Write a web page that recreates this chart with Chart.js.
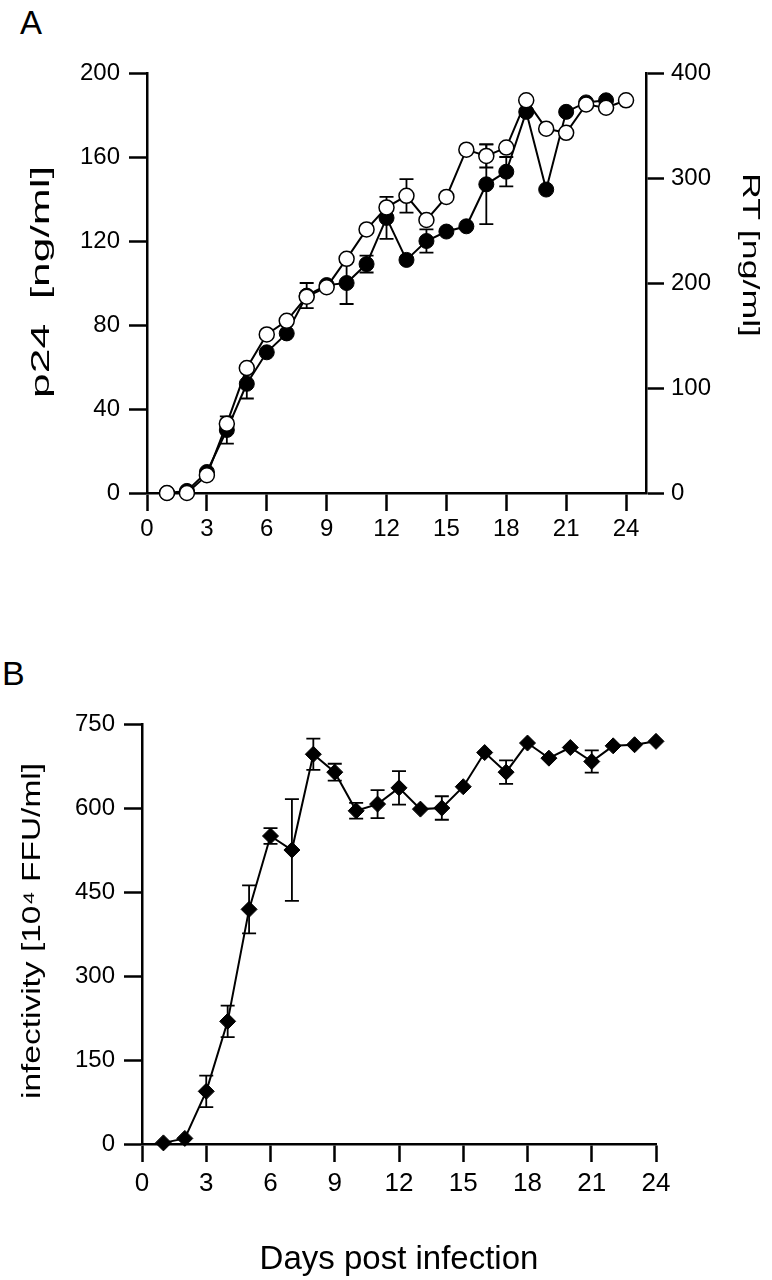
<!DOCTYPE html>
<html>
<head>
<meta charset="utf-8">
<script src="https://cdn.jsdelivr.net/npm/chart.js@4"></script>
<style>
  body { margin: 0; background: #fff; width: 772px; height: 1280px; position: relative; overflow: hidden; }
  .panel { position: absolute; font-family: 'Liberation Sans', Arial, sans-serif; color: #000; line-height: 1; }
  canvas { position: absolute; left: 0; }
</style>
</head>
<body>
<div class="panel" style="left:20px; top:6px; font-size:33px;">A</div>
<div class="panel" style="left:2px; top:656px; font-size:34px;">B</div>
<canvas id="chartA" width="772" height="560" style="top:0px"></canvas>
<canvas id="chartB" width="772" height="680" style="top:600px"></canvas>
<script>
// Panel A: p24 (filled) and RT (open)
const daysA = [1, 2, 3, 4, 5, 6, 7, 8, 9, 10, 11, 12, 13, 14, 15, 16, 17, 18, 19, 20, 21, 22, 23, 24];
const p24 = [0, 1, 10, 30, 52, 67, 76, 94, 99, 100, 109, 131, 111, 120, 124.5, 127, 147, 153, 181.5, 144.5, 181.5, 186, 187];
const p24Err = [0, 0, 0, 6.5, 7, 0, 0, 6, 0, 10, 4, 10, 0, 5.5, 0, 0, 19, 7, 0, 0, 0, 0, 0];
const rt = [0, 0, 17, 66, 119, 151, 164, 187, 196, 223, 251, 272, 283, 260, 282, 327, 321, 329, 374, 347, 343, 370, 367, 374];
const rtErr = [0, 0, 0, 0, 0, 0, 0, 0, 0, 0, 0, 0, 16, 0, 0, 0, 11, 0, 0, 0, 0, 0, 0, 0];
const p24Ticks = [0, 40, 80, 120, 160, 200];
const rtTicks = [0, 100, 200, 300, 400];

// Panel B: infectivity
const daysB = [1, 2, 3, 4, 5, 6, 7, 8, 9, 10, 11, 12, 13, 14, 15, 16, 17, 18, 19, 20, 21, 22, 23, 24];
const infectivity = [2, 10, 94, 219, 419, 550, 525, 696, 664, 595, 607, 636, 598, 600, 638, 699, 664, 716, 689, 708, 683, 711, 713, 719];
const infErr = [0, 0, 28, 28, 43, 14, 91, 28, 15, 14, 25, 30, 0, 21, 0, 0, 21, 0, 0, 0, 20, 0, 0, 0];
const dayTicks = [0, 3, 6, 9, 12, 15, 18, 21, 24];
const infTicks = [0, 150, 300, 450, 600, 750];

const FONT = "'Liberation Sans', Arial, sans-serif";

const toPoints = (xs, ys) => ys.map((v, i) => ({ x: xs[i], y: v }));

// draws error bars under the markers
const errorBars = {
  id: 'errorBars',
  beforeDatasetsDraw(chart) {
    const ctx = chart.ctx;
    const xs = chart.scales.x;
    chart.data.datasets.forEach(ds => {
      if (!ds.errors) return;
      const ys = chart.scales[ds.yAxisID || 'y'];
      ctx.save();
      ctx.strokeStyle = '#000';
      ctx.lineWidth = 1.8;
      ds.data.forEach((p, j) => {
        const e = ds.errors[j];
        if (!e) return;
        const px = xs.getPixelForValue(p.x);
        const top = ys.getPixelForValue(p.y + e);
        const bot = ys.getPixelForValue(p.y - e);
        ctx.beginPath();
        ctx.moveTo(px, top); ctx.lineTo(px, bot);
        ctx.moveTo(px - 7, top); ctx.lineTo(px + 7, top);
        ctx.moveTo(px - 7, bot); ctx.lineTo(px + 7, bot);
        ctx.stroke();
      });
      ctx.restore();
    });
  }
};

// rotated axis titles, stretched along the reading direction like the original figure
const sideTitles = {
  id: 'sideTitles',
  afterDraw(chart, args, opts) {
    const ctx = chart.ctx;
    (opts.items || []).forEach(t => {
      ctx.save();
      ctx.font = t.size + 'px ' + FONT;
      ctx.fillStyle = '#000';
      ctx.textAlign = 'center';
      ctx.textBaseline = 'middle';
      ctx.translate(t.x, t.y);
      ctx.rotate(t.rotation);
      const w = ctx.measureText(t.text).width;
      ctx.scale(t.length / w, 1);
      ctx.fillText(t.text, 0, 0);
      ctx.restore();
    });
  }
};

function axis(opts) {
  return Object.assign({
    type: 'linear',
    border: { display: true, color: '#000', width: 2.5 },
    grid: { display: true, drawOnChartArea: false, drawTicks: true, tickLength: 18, tickWidth: 2.5, tickColor: '#000', color: '#000' },
  }, opts);
}

function fixSize(w, h) {
  return function (scale) {
    if (w != null) scale.width = w;
    if (h != null) scale.height = h;
  };
}

new Chart(document.getElementById('chartA'), {
  type: 'line',
  data: {
    datasets: [{
      label: 'RT',
      data: toPoints(daysA, rt),
      errors: rtErr,
      yAxisID: 'y1',
      borderColor: '#000',
      borderWidth: 2,
      pointStyle: 'circle',
      pointRadius: 7.5,
      pointBackgroundColor: '#fff',
      pointBorderColor: '#000',
      pointBorderWidth: 1.5,
      tension: 0,
      clip: false
    }, {
      label: 'p24',
      data: toPoints(daysA, p24),
      errors: p24Err,
      yAxisID: 'y',
      borderColor: '#000',
      borderWidth: 2,
      pointStyle: 'circle',
      pointRadius: 7.5,
      pointBackgroundColor: '#000',
      pointBorderColor: '#000',
      pointBorderWidth: 1,
      tension: 0,
      clip: false
    }]
  },
  options: {
    responsive: false,
    animation: false,
    layout: { padding: { top: 73, left: 0, right: 0, bottom: 0 } },
    plugins: {
      legend: { display: false },
      tooltip: { enabled: false },
      sideTitles: {
        items: [
          { text: 'p24  [ng/ml]', x: 42, y: 282, rotation: -Math.PI / 2, size: 25, length: 232 },
          { text: 'RT [ng/ml]', x: 750, y: 255, rotation: Math.PI / 2, size: 24, length: 164 }
        ]
      }
    },
    scales: {
      x: axis({
        min: 0, max: 25,
        afterFit: fixSize(null, 67),
        afterBuildTicks: s => { s.ticks = dayTicks.map(v => ({ value: v })); },
        ticks: { font: { family: FONT, size: 24 }, color: '#000', padding: 4, maxRotation: 0 }
      }),
      y: axis({
        position: 'left',
        min: 0, max: 200,
        afterFit: fixSize(147, null),
        afterBuildTicks: s => { s.ticks = p24Ticks.map(v => ({ value: v })); },
        ticks: { font: { family: FONT, size: 24 }, color: '#000', padding: 9 }
      }),
      y1: axis({
        position: 'right',
        min: 0, max: 400,
        afterFit: fixSize(126, null),
        afterBuildTicks: s => { s.ticks = rtTicks.map(v => ({ value: v })); },
        ticks: { font: { family: FONT, size: 24 }, color: '#000', padding: 7 }
      })
    }
  },
  plugins: [errorBars, sideTitles]
});

new Chart(document.getElementById('chartB'), {
  type: 'line',
  data: {
    datasets: [{
      label: 'infectivity',
      data: toPoints(daysB, infectivity),
      errors: infErr,
      yAxisID: 'y',
      borderColor: '#000',
      borderWidth: 2,
      pointStyle: 'rectRot',
      pointRadius: 8,
      pointBackgroundColor: '#000',
      pointBorderColor: '#000',
      pointBorderWidth: 1,
      tension: 0,
      clip: false
    }]
  },
  options: {
    responsive: false,
    animation: false,
    layout: { padding: { top: 124, left: 0, right: 116, bottom: 0 } },
    plugins: {
      legend: { display: false },
      tooltip: { enabled: false },
      sideTitles: {
        items: [
          { text: 'infectivity [10\u2074 FFU/ml]', x: 33, y: 331, rotation: -Math.PI / 2, size: 26, length: 336 }
        ]
      }
    },
    scales: {
      x: axis({
        min: 0, max: 24,
        afterFit: fixSize(null, 136),
        afterBuildTicks: s => { s.ticks = dayTicks.map(v => ({ value: v })); },
        ticks: { font: { family: FONT, size: 26 }, color: '#000', padding: 6, maxRotation: 0 },
        title: { display: true, text: 'Days post infection', color: '#000', font: { family: FONT, size: 33 }, padding: { top: 2, bottom: 0 } }
      }),
      y: axis({
        position: 'left',
        min: 0, max: 750,
        afterFit: fixSize(142, null),
        afterBuildTicks: s => { s.ticks = infTicks.map(v => ({ value: v })); },
        ticks: { font: { family: FONT, size: 24 }, color: '#000', padding: 9 }
      })
    }
  },
  plugins: [errorBars, sideTitles]
});
</script>
</body>
</html>
